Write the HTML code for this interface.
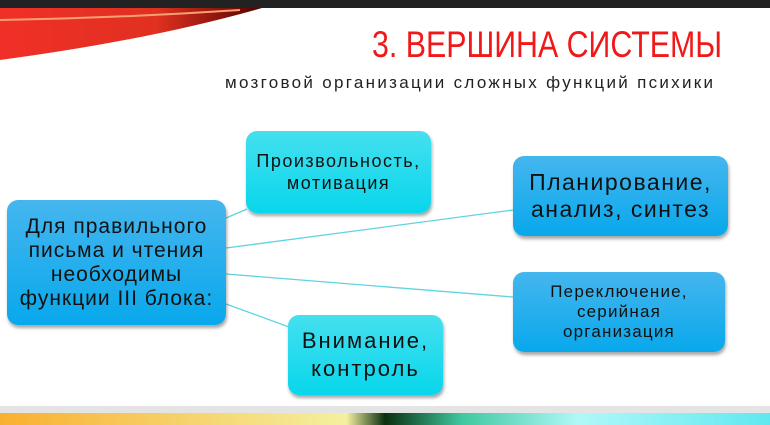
<!DOCTYPE html>
<html><head><meta charset="utf-8"><style>
body{margin:0;width:770px;height:425px;overflow:hidden;background:#fff;position:relative;font-family:"Liberation Sans","DejaVu Sans",sans-serif}
.b{position:absolute;border-radius:11px;box-shadow:1px 3px 3px rgba(0,0,0,.35);display:flex;align-items:center;justify-content:center;text-align:center;color:#111;box-sizing:border-box;white-space:nowrap}
.c{background:linear-gradient(#45e0ee,#08d6ec)}
.d{background:linear-gradient(#45b6ee,#08a8ec)}
.t{position:absolute;white-space:nowrap}
</style></head><body>
<div style="position:absolute;left:0;top:0;width:770px;height:8px;background:#222"></div>
<svg style="position:absolute;left:0;top:0" width="770" height="425">
<defs><linearGradient id="g" x1="0" y1="0" x2="1" y2="0"><stop offset="0" stop-color="#f03028"/><stop offset=".6" stop-color="#e03020"/><stop offset="1" stop-color="#500"/></linearGradient>
<linearGradient id="h" x1="0" y1="0" x2="1" y2="0"><stop offset="0" stop-color="#f9b030"/><stop offset=".45" stop-color="#f4f0a0"/><stop offset=".5" stop-color="#0a3010"/><stop offset=".6" stop-color="#40c8a0"/><stop offset=".75" stop-color="#b0f8f8"/><stop offset="1" stop-color="#60e8f0"/></linearGradient></defs>
<path d="M0 8 L262 8 Q150 40 0 60 Z" fill="url(#g)"/>
<path d="M0 20 Q120 18 240 10" stroke="#f7a070" stroke-width="2" fill="none"/>
<rect x="0" y="406" width="770" height="7" fill="#e4e4e4"/>
<rect x="0" y="413" width="770" height="12" fill="url(#h)"/>
<g stroke="#5fd4e0" stroke-width="1.3">
<line x1="226" y1="218" x2="247" y2="209"/>
<line x1="226" y1="248" x2="513" y2="210"/>
<line x1="226" y1="274" x2="513" y2="297"/>
<line x1="226" y1="304" x2="289" y2="327"/>
</g></svg>
<div class="t" style="left:372px;top:24px;font-size:37px;color:#f01818;transform:scaleX(.82);transform-origin:left top">3. ВЕРШИНА СИСТЕМЫ</div>
<div class="t" style="left:225px;top:73px;font-size:17px;color:#222;letter-spacing:2.3px">мозговой организации сложных функций психики</div>
<div class="b d" style="left:7px;top:200px;width:219px;height:125px;font-size:21px;line-height:24px;letter-spacing:1px">Для правильного<br>письма и чтения<br>необходимы<br>функции III блока:</div>
<div class="b c" style="left:246px;top:131px;width:185px;height:82px;font-size:18px;line-height:22px;letter-spacing:1.5px">Произвольность,<br>мотивация</div>
<div class="b d" style="left:513px;top:156px;width:215px;height:80px;font-size:23px;line-height:27px;letter-spacing:1.5px">Планирование,<br>анализ, синтез</div>
<div class="b d" style="left:513px;top:272px;width:212px;height:80px;font-size:17px;line-height:20px;letter-spacing:1.2px">Переключение,<br>серийная<br>организация</div>
<div class="b c" style="left:288px;top:315px;width:155px;height:80px;font-size:22px;line-height:28px;letter-spacing:2px">Внимание,<br>контроль</div>
</body></html>
